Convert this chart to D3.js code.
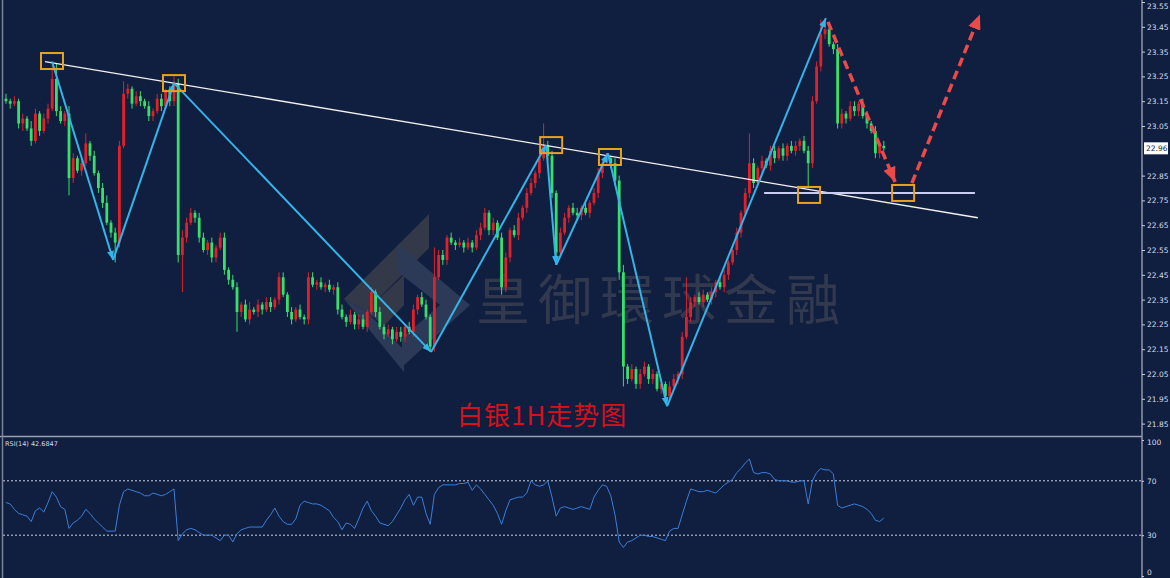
<!DOCTYPE html>
<html>
<head>
<meta charset="utf-8">
<script src="https://cdn.jsdelivr.net/npm/d3@7"></script>
<style>
  body { margin: 0; background: #101e40; }
  svg { display: block; }
</style>
</head>
<body>
<svg id="chart" width="1170" height="578"></svg>
<script>
// ---- data (silver, 1H) ----
const firstOpen = 23.16;
const closes = [
  23.15,23.14,23.15,23.06,23.08,23.04,22.99,23.10,23.03,23.08,
  23.12,23.24,23.11,23.07,23.10,22.84,22.92,22.87,22.90,22.98,
  22.93,22.86,22.80,22.74,22.66,22.62,22.58,22.97,23.18,23.20,
  23.14,23.17,23.15,23.13,23.09,23.11,23.16,23.13,23.19,23.15,
  23.22,22.53,22.60,22.66,22.70,22.68,22.60,22.55,22.58,22.52,
  22.56,22.60,22.47,22.43,22.40,22.30,22.33,22.27,22.31,22.30,
  22.33,22.31,22.34,22.32,22.35,22.44,22.37,22.30,22.27,22.31,
  22.28,22.27,22.44,22.41,22.42,22.40,22.41,22.39,22.40,22.31,
  22.28,22.26,22.29,22.25,22.27,22.24,22.30,22.38,22.30,22.24,
  22.21,22.23,22.19,22.22,22.20,22.24,22.22,22.31,22.36,22.33,
  22.28,22.16,22.44,22.53,22.51,22.60,22.58,22.57,22.58,22.56,
  22.58,22.56,22.61,22.64,22.70,22.63,22.66,22.60,22.40,22.52,
  22.63,22.61,22.68,22.72,22.78,22.82,22.86,22.92,22.97,22.93,
  22.78,22.54,22.62,22.68,22.72,22.70,22.69,22.72,22.70,22.74,
  22.78,22.86,22.90,22.92,22.90,22.83,22.46,22.08,22.03,22.07,
  22.01,22.05,22.08,22.03,22.05,21.99,22.01,21.96,22.00,22.03,
  22.05,22.20,22.28,22.34,22.36,22.34,22.37,22.35,22.38,22.42,
  22.40,22.45,22.50,22.55,22.62,22.70,22.78,22.90,22.82,22.88,
  22.91,22.89,22.95,22.92,22.96,22.93,22.97,22.95,22.97,22.99,
  22.95,22.90,23.15,23.29,23.42,23.44,23.38,23.36,23.06,23.10,
  23.08,23.13,23.11,23.14,23.09,23.06,23.03,22.94,22.97,22.96
];
// upper / lower wick beyond the body, in cents
const wickUp = [
  2,1,2,1,2,1,3,2,1,2, 2,7,6,2,1,3,2,1,2,4, 1,2,1,2,3,1,2,2,5,2,
  1,2,2,1,2,1,2,2,1,2, 3,2,3,2,2,1,2,2,1,2, 1,2,2,1,2,2,1,2,3,1,
  2,1,2,2,1,2,2,1,2,1, 2,1,2,2,1,2,1,2,1,2, 2,1,2,1,2,2,1,2,1,2,
  1,2,1,2,2,1,2,2,1,2, 2,1,12,2,2,1,2,1,2,1, 2,1,2,2,2,1,2,1,2,2,
  1,2,2,1,2,2,1,2,9,2, 2,1,2,2,1,2,2,1,2,1, 2,2,1,2,1,2,2,3,1,2,
  1,2,2,1,2,1,2,1,2,2, 1,2,16,2,1,2,2,1,2,1, 2,2,1,2,2,1,2,12,2,1,
  2,1,2,2,1,2,1,2,2,1, 2,2,2,2,6,2,2,1,2,2, 1,2,2,1,2,2,1,2,1,2
];
const wickDn = [
  1,2,1,2,3,1,2,1,2,1, 2,1,2,1,2,7,2,1,2,1, 2,1,2,2,1,2,8,2,1,2,
  2,1,2,1,2,2,1,2,1,2, 2,3,15,2,1,2,2,1,2,2, 2,1,2,2,1,8,2,1,2,1,
  2,2,1,2,1,2,1,2,2,1, 1,2,2,1,2,1,2,1,2,2, 1,2,1,2,2,1,2,1,2,1,
  2,1,2,1,2,2,1,2,2,1, 1,2,2,1,2,2,1,2,1,2, 1,2,1,2,1,2,2,1,3,2,
  2,1,2,1,2,1,2,2,1,2, 2,4,2,1,2,1,2,2,1,2, 1,2,2,1,2,2,3,8,2,1,
  2,2,1,2,2,1,2,3,2,1, 2,2,1,2,2,1,2,1,2,2, 1,2,2,1,2,2,1,2,2,1,
  2,1,2,2,1,2,2,1,2,2, 1,10,2,1,2,2,1,2,2,2, 2,1,2,2,1,2,1,2,2,1
];
const rsiValues = [
  54,53,49,46,45,44,40,48,50,47, 54,62,58,51,49,35,39,41,44,49,
  46,42,39,36,33,33,33,52,62,64, 63,62,61,59,59,61,60,59,60,62,
  64,26,31,34,35,34,32,30,30,30, 28,26,30,30,25,31,34,35,36,36,
  36,36,41,45,50,44,40,38,38,42, 52,55,54,53,53,52,50,48,43,40,
  34,39,38,35,42,50,55,48,44,39, 38,37,40,45,50,56,60,52,58,58,
  46,38,60,65,67,67,67,67,68,68, 69,63,67,64,60,56,52,46,38,48,
  56,57,58,58,61,70,67,66,67,70, 58,44,50,51,50,49,50,51,50,49,
  58,63,67,66,59,45,25,21,25,26, 28,30,30,29,29,28,27,26,33,35,
  35,45,55,64,63,62,62,63,62,61, 64,67,69,71,76,79,83,86,76,75,
  76,76,75,71,70,70,70,69,69,70, 70,53,70,76,79,78,78,75,52,50,
  51,52,53,52,51,49,46,41,40,42.68
];
const rsiLabel = "RSI(14) 42.6847";
const priceTicks = [23.55,23.45,23.35,23.25,23.15,23.05,22.85,22.75,22.65,22.55,
                    22.45,22.35,22.25,22.15,22.05,21.95,21.85];
const rsiTicks = [100, 70, 30, 0];
const lastPrice = 22.96;
// drawn annotations, as [candle index, price]
const zigzag = [[10.95,23.31],[25.5,22.51],[40,23.223],[101.2,22.139],[128.6,22.973],
                [131,22.49],[143.3,22.94],[157.4,21.92],[195.2,23.485]];
const trendLine = [[9.3,23.31],[231.4,22.68]];
const supportLine = [[180.5,22.78],[230.7,22.78]];
const boxes = [[10.95,23.312],[40,23.223],[129.8,22.973],[143.8,22.925],[191.2,22.772],[213.6,22.78]];
const forecast = [[[195.7,23.47],[211.7,22.824]], [[215.7,22.82],[231.9,23.50]]];
const title = "白银1H走势图";
const watermark = "皇御環球金融";

// ---- layout ----
const svg = d3.select("#chart");
const W = 1170, H = 578;
const axisX = 1142;
const mainBottom = 436;

const x = d3.scaleLinear().domain([0, closes.length - 1]).range([6, 883.8]);
const y = d3.scaleLinear().domain([21.85, 23.55]).range([423.6, 2]);
const yR = d3.scaleLinear().domain([0, 100]).range([576, 440]);

svg.append("rect").attr("width", W).attr("height", H).attr("fill", "#101e40");

const defs = svg.append("defs");
defs.append("clipPath").attr("id", "mainClip")
  .append("rect").attr("x", 3).attr("y", 0).attr("width", axisX - 3).attr("height", mainBottom);
function marker(id, color, len, wid) {
  defs.append("marker").attr("id", id)
    .attr("viewBox", `0 0 ${len} ${wid}`).attr("refX", len).attr("refY", wid / 2)
    .attr("markerUnits", "userSpaceOnUse")
    .attr("markerWidth", len).attr("markerHeight", wid).attr("orient", "auto")
    .append("path").attr("d", `M0,0L${len},${wid / 2}L0,${wid}Z`).attr("fill", color);
}
marker("arrBlue", "#34b4e8", 9, 7);
marker("arrRed", "#ea4a4a", 15, 13);

// ---- watermark ----
const wm = svg.append("g").attr("opacity", 0.4);
wm.append("polygon").attr("points", "429,214 429,248 366,311 344,299").attr("fill", "#6a6258");
wm.append("polygon").attr("points", "344,299 366,311 404,350 404,372").attr("fill", "#56647e");
wm.append("polygon").attr("points", "398,244 470,305 402,367 402,338 440,305 398,272").attr("fill", "#56647e");
wm.append("polygon").attr("points", "366,311 404,275 404,305 384,326").attr("fill", "#6a6258");
svg.append("text").attr("x", 476).attr("y", 320)
  .attr("font-family", "Noto Sans CJK SC").attr("font-size", 54)
  .attr("letter-spacing", 8).attr("fill", "#6e6a68").attr("opacity", 0.36)
  .text(watermark);

// ---- candles ----
const opens = [firstOpen].concat(closes.slice(0, -1));
const candles = closes.map((c, i) => {
  const o = opens[i];
  return { i, o, c,
    h: Math.max(o, c) + wickUp[i] / 100,
    l: Math.min(o, c) - wickDn[i] / 100 };
});
const upCol = "#e2202a", dnCol = "#36e06a";
const gC = svg.append("g").attr("clip-path", "url(#mainClip)");
gC.selectAll("line.wick").data(candles).enter().append("line")
  .attr("class", "wick")
  .attr("x1", d => x(d.i)).attr("x2", d => x(d.i))
  .attr("y1", d => y(d.h)).attr("y2", d => y(d.l))
  .attr("stroke", d => d.c > d.o ? upCol : d.c < d.o ? dnCol : "#0a0f1c")
  .attr("stroke-width", 1);
gC.selectAll("rect.body").data(candles).enter().append("rect")
  .attr("class", "body")
  .attr("x", d => x(d.i) - 1.4).attr("width", 2.8)
  .attr("y", d => y(Math.max(d.o, d.c)))
  .attr("height", d => Math.max(1, Math.abs(y(d.o) - y(d.c))))
  .attr("fill", d => d.c > d.o ? upCol : d.c < d.o ? dnCol : "#0a0f1c");

// ---- annotations ----
const gA = svg.append("g").attr("clip-path", "url(#mainClip)");
gA.append("line")
  .attr("x1", x(trendLine[0][0])).attr("y1", y(trendLine[0][1]))
  .attr("x2", x(trendLine[1][0])).attr("y2", y(trendLine[1][1]))
  .attr("stroke", "#f2f2f2").attr("stroke-width", 1.3);
gA.append("line")
  .attr("x1", x(supportLine[0][0])).attr("y1", y(supportLine[0][1]))
  .attr("x2", x(supportLine[1][0])).attr("y2", y(supportLine[1][1]))
  .attr("stroke", "#c9cdf2").attr("stroke-width", 2);
for (let k = 0; k < zigzag.length - 1; k++) {
  gA.append("line")
    .attr("x1", x(zigzag[k][0])).attr("y1", y(zigzag[k][1]))
    .attr("x2", x(zigzag[k + 1][0])).attr("y2", y(zigzag[k + 1][1]))
    .attr("stroke", "#34b4e8").attr("stroke-width", 2)
    .attr("marker-end", "url(#arrBlue)");
}
gA.selectAll("rect.box").data(boxes).enter().append("rect")
  .attr("class", "box")
  .attr("x", d => x(d[0]) - 11).attr("y", d => y(d[1]) - 8)
  .attr("width", 22).attr("height", 16)
  .attr("fill", "none").attr("stroke", "#e9a21e").attr("stroke-width", 2);
forecast.forEach(seg => {
  gA.append("line")
    .attr("x1", x(seg[0][0])).attr("y1", y(seg[0][1]))
    .attr("x2", x(seg[1][0])).attr("y2", y(seg[1][1]))
    .attr("stroke", "#ea4a4a").attr("stroke-width", 3.5)
    .attr("stroke-dasharray", "9,5")
    .attr("marker-end", "url(#arrRed)");
});

// title
svg.append("text").attr("x", 457).attr("y", 425)
  .attr("font-family", "Noto Sans CJK SC").attr("font-size", 26)
  .attr("letter-spacing", 1).attr("fill", "#d4121c")
  .text(title);

// ---- RSI panel ----
svg.append("line").attr("x1", 0).attr("x2", axisX).attr("y1", mainBottom + 0.5).attr("y2", mainBottom + 0.5)
  .attr("stroke", "#9aa0b2").attr("stroke-width", 1.5);
[70, 30].forEach(v => {
  svg.append("line").attr("x1", 3).attr("x2", axisX).attr("y1", yR(v)).attr("y2", yR(v))
    .attr("stroke", "#c8cde2").attr("stroke-width", 1).attr("stroke-dasharray", "2,2");
});
svg.append("path").datum(rsiValues)
  .attr("d", d3.line().x((d, i) => x(i)).y(d => yR(d)))
  .attr("fill", "none").attr("stroke", "#3b7fd8").attr("stroke-width", 1);
svg.append("text").attr("x", 5).attr("y", 446)
  .attr("font-family", "DejaVu Sans").attr("font-size", 6.5).attr("fill", "#d6dae4")
  .text(rsiLabel);

// ---- axes ----
svg.append("line").attr("x1", 2.5).attr("x2", 2.5).attr("y1", 0).attr("y2", H)
  .attr("stroke", "#7d8396").attr("stroke-width", 1.5);
svg.append("line").attr("x1", axisX).attr("x2", axisX).attr("y1", 0).attr("y2", H)
  .attr("stroke", "#9097a8").attr("stroke-width", 1.5);

const gY = svg.append("g").attr("transform", `translate(${axisX},0)`)
  .call(d3.axisRight(y).tickValues(priceTicks).tickSize(3).tickPadding(2).tickFormat(d3.format(".2f")));
const gYR = svg.append("g").attr("transform", `translate(${axisX},0)`)
  .call(d3.axisRight(yR).tickValues(rsiTicks).tickSize(2).tickPadding(3));
[gY, gYR].forEach(g => {
  g.select(".domain").remove();
  g.selectAll("line").attr("stroke", "#c8ccd8");
  g.selectAll("text").attr("fill", "#dadde6").attr("font-family", "DejaVu Sans").attr("font-size", 7.5);
});
// keep the edge labels inside the frame
gY.selectAll(".tick").filter(d => d === 23.55).select("text").attr("dy", "0.9em");
gYR.selectAll(".tick").filter(d => d === 0).select("text").attr("dy", "-0.2em");
gYR.selectAll(".tick").filter(d => d === 100).select("text").attr("dy", "0.6em");

// last price tag
svg.append("rect").attr("x", axisX + 2).attr("y", y(lastPrice) - 6)
  .attr("width", 24).attr("height", 12).attr("fill", "#ffffff");
svg.append("text").attr("x", axisX + 4).attr("y", y(lastPrice) + 3)
  .attr("font-family", "DejaVu Sans").attr("font-size", 7.5).attr("fill", "#101e40")
  .text(d3.format(".2f")(lastPrice));
</script>
</body>
</html>
